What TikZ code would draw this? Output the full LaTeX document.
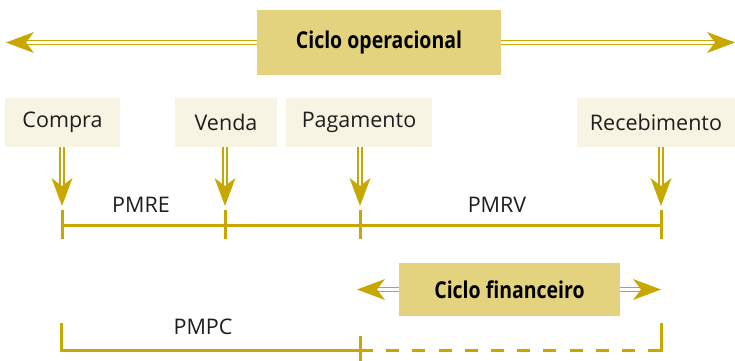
\documentclass[tikz,border=0pt]{standalone}
\usepackage{fontspec}
\setmainfont{Open Sans}
\newfontfamily\boldcond[FakeStretch=0.84]{Open Sans Bold}
\usetikzlibrary{arrows.meta}
\definecolor{gold}{RGB}{200,168,0}
\definecolor{boxdark}{RGB}{227,211,126}
\definecolor{boxlight}{RGB}{248,244,227}
\definecolor{txt}{RGB}{30,30,30}
\begin{document}
\begin{tikzpicture}[x=1pt,y=-1pt,
  evt/.style={fill=boxlight, inner sep=0pt, minimum height=49pt, font=\fontsize{21.5}{24}\selectfont, text=txt},
  cyc/.style={fill=boxdark, inner sep=0pt, font=\boldcond\fontsize{23.2}{26}\selectfont, text=black},
  lbl/.style={inner sep=0pt, font=\fontsize{21.5}{24}\selectfont, text=txt},
  dbl/.style={draw=gold, double=white, line width=1.6pt, double distance=2.6pt,
    -{Stealth[length=28pt,width=21pt,inset=8pt,line width=0pt,fill=gold]}},
  tl/.style={draw=gold, line width=3pt},
  tldash/.style={draw=gold, line width=3pt, dash pattern=on 13pt off 13.2pt, dash phase=13pt}
]
\useasboundingbox (0,0) rectangle (735,360);
% top cycle
\node[cyc, minimum width=244pt, minimum height=65pt] (co) at (379,42.5) {Ciclo operacional};
\coordinate (coL) at (6,42.5);
\coordinate (coR) at (735,42.5);
\draw[dbl] (co.west) -- (coL);
\draw[dbl] (co.east) -- (coR);
% events
\node[evt, minimum width=115pt] (compra) at (62.5,122.5) {Compra};
\node[evt, minimum width=102pt] (venda) at (226,122.5) {Venda};
\node[evt, minimum width=146pt] (pag) at (359,122.5) {Pagamento};
\node[evt, minimum width=158pt] (rec) at (656,122.5) {Recebimento};
% timeline points
\coordinate (t1) at (62,225);
\coordinate (t2) at (225,225);
\coordinate (t3) at (360,225);
\coordinate (t4) at (661,225);
\draw[dbl, shorten >=19pt] (compra.south -| t1) -- (t1);
\draw[dbl, shorten >=19pt] (venda.south -| t2) -- (t2);
\draw[dbl, shorten >=19pt] (pag.south -| t3) -- (t3);
\draw[dbl, shorten >=19pt] (rec.south -| t4) -- (t4);
\draw[tl] (t1) -- (t4);
\foreach \t in {t1,t2,t3,t4} \draw[tl] ([yshift=15pt]\t) -- ([yshift=-14pt]\t);
\node[lbl] (pmre) at (141,205) {PMRE};
\node[lbl] (pmrv) at (497,205) {PMRV};
% financial cycle
\node[cyc, minimum width=221pt, minimum height=53pt] (cf) at (509.5,289.5) {Ciclo financeiro};
\coordinate (cfL) at (357,289.5);
\coordinate (cfR) at (661,289.5);
\draw[dbl] (cf.west) -- (cfL);
\draw[dbl] (cf.east) -- (cfR);
% PMPC bracket
\coordinate (p1) at (61,323);
\coordinate (p2) at (61,350);
\coordinate (p3) at (360,350);
\coordinate (p3b) at (373,350);
\coordinate (p4a) at (649,350);
\coordinate (p4) at (661,350);
\coordinate (p5) at (661,323);
\draw[tl] (p1) -- (p2) -- (p3b);
\draw[tl] ([yshift=14pt]p3) -- ([yshift=-11pt]p3);
\draw[tldash] (p3b) -- (p4a);
\draw[tl] (p4a) -- (p4) -- (p5);
\node[lbl] (pmpc) at (203,327) {PMPC};
\end{tikzpicture}
\end{document}
